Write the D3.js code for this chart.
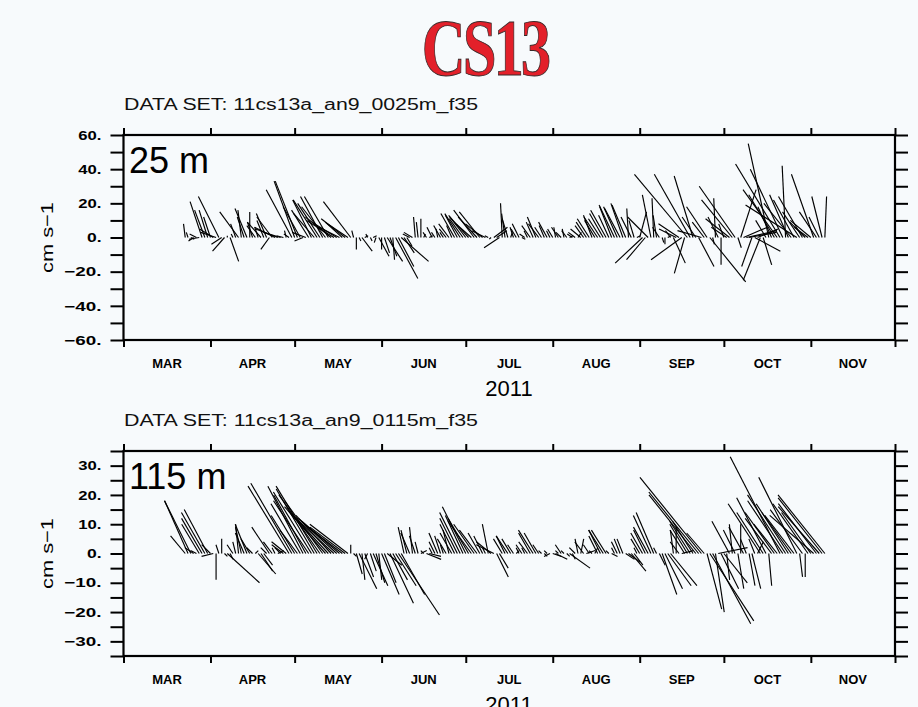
<!DOCTYPE html>
<html><head><meta charset="utf-8">
<script src="https://cdn.jsdelivr.net/npm/d3@7"></script>
<style>html,body{margin:0;padding:0;background:#f7fafc;} svg{display:block}</style>
</head><body>
<svg id="c" width="918" height="707"></svg>
<script>
// ---------------- data ----------------
const title = "CS13";
const monthLabels = ["MAR","APR","MAY","JUN","JUL","AUG","SEP","OCT","NOV"];
const yearLabel = "2011";
const yUnits = "cm s\u22121";
const axisStart = "2011-03-01", axisEnd = "2011-12-01";
const dataStart = "2011-03-23";   // first daily stick
const depthLabels = ["25 m", "115 m"];
const dataSetLabels = ["DATA SET: 11cs13a_an9_0025m_f35", "DATA SET: 11cs13a_an9_0115m_f35"];
const yLabelTicks25 = [-60,-40,-20,0,20,40,60];
const yMinorTicks25 = [-60,-50,-40,-30,-20,-10,0,10,20,30,40,50,60];
const yLabelTicks115 = [-30,-20,-10,0,10,20,30];
const yMinorTicks115 = [-35,-30,-25,-20,-15,-10,-5,0,5,10,15,20,25,30,35];

// 25 m daily east (u) and north (v) velocity, cm/s
const u25 = [
 -1,-1,2,-3,-4,-6,-7,-6,-5,-4,
 -8,-9,-12,-6,-7,0,5,-1,-3,-11,
 -2,-4,-7,0,-3,-5,-2,-8,-4,-6,
 -5,-9,-12,-13,-10,-4,-1,-3,-15,-12,
 -13,-10,-5,-8,-10,-11,-12,-14,-13,-13,
 -14,-14,-15,-16,-13,-12,-10,-14,-12,-16,
 -1,0,1,6,2,-1,1,2,-1,6,
 0,3,9,4,1,13,9,16,6,3,
 -4,-5,-1,-1,0,1,-2,2,-3,-2,
 -1,-4,-2,-4,-6,-3,-8,-7,-9,-8,
 -10,-11,-9,-12,-11,-12,-10,-8,-2,-1,
 8,6,-9,-1,-2,-3,1,-2,-3,-4,
 2,-3,-2,-5,-4,-5,-6,-4,-3,-5,
 -2,-3,-1,-4,-3,-1,-3,2,-3,-4,
 2,-6,-5,-6,-7,-5,-6,-8,-7,-8,
 -9,-6,-7,-9,-8,-9,-7,-8,-1,-6,
 -3,2,4,-16,-11,-12,-5,-1,-2,-4,
 1,0,2,-3,7,-10,-12,-18,-6,-31,
 -21,-11,-8,9,-14,-7,-12,21,1,-1,
 -6,0,-3,-9,-14,-18,-21,2,9,14,
 18,16,-6,15,12,-10,5,-6,-12,-8,
 -15,-20,-26,-19,-2,-11,-16,-12,-30,-10,
 -14,-9,-8,-12,-13,-10,-6,-6,1];
const v25 = [
 8,3,-1,-2,2,-1,21,16,16,12,
 5,3,24,-4,-8,1,-14,2,8,15,
 16,12,17,15,9,7,6,9,10,14,
 -7,12,6,5,3,1,4,2,28,33,
 33,18,-2,3,16,22,14,22,20,24,
 18,24,12,10,8,6,9,11,8,21,
 4,-7,-2,-8,1,2,-2,1,-3,-11,
 -7,-9,-14,-11,-13,-24,-17,-14,-9,-5,
 2,3,12,9,11,2,3,1,6,3,
 5,7,3,5,8,7,14,13,14,11,
 13,12,8,16,12,15,8,4,1,-1,
 6,4,-6,20,14,10,3,6,5,8,
 -1,2,4,7,9,12,8,6,7,9,
 4,5,6,6,3,5,4,1,2,3,
 3,5,7,9,11,13,10,12,11,14,
 16,13,18,19,18,17,20,19,17,12,
 10,1,15,-15,-13,12,25,23,13,6,
 -3,-4,1,4,-15,5,8,-13,-21,37,
 37,36,12,-17,4,9,18,-26,-4,23,
 12,-16,8,6,11,22,30,-6,28,6,
 4,3,-17,-8,5,-25,-16,10,55,18,
 25,28,43,40,42,25,20,22,19,15,
 24,9,6,10,37,15,12,24,24];

// 115 m daily east (u) and north (v) velocity, cm/s
const u115 = [
 -5,-8,-9,-3,-2,-6,-7,-8,-8,-3,
 -4,0,-1,0,1,11,1,-2,-1,-1,
 -2,-3,-4,-3,-2,1,6,4,3,-2,
 -6,-3,-1,2,-2,-4,-5,-14,-14,-8,
 -6,-10,-12,-11,-12,-13,-13,-14,-14,-13,
 -14,-13,-12,-13,-12,-14,-13,-12,-13,0,
 1,2,6,1,3,-1,2,5,3,1,
 6,4,5,8,5,7,14,8,-2,-2,
 -3,-1,-2,-1,2,-1,5,4,-1,-2,
 -3,-2,-1,-3,-2,-4,-5,-6,-7,-6,
 -8,-7,-8,-7,-6,-4,-3,-1,-2,-5,
 -6,4,3,-3,-3,-4,-3,-2,1,-1,
 -2,-1,-3,-4,-5,-4,-2,-1,1,-1,
 -2,3,4,-1,-2,-1,1,7,1,-2,
 -1,1,-3,3,-2,-1,1,-3,-4,-5,
 -5,-1,2,-1,-2,-2,-2,3,4,5,
 3,-1,-3,-4,-4,-5,-6,-6,-1,2,
 5,6,8,9,-1,0,-3,4,-5,-6,
 -7,-7,-16,-17,-21,-6,5,15,13,3,
 10,6,8,1,-6,-1,-4,2,0,-5,
 -2,2,3,-2,2,-11,-9,-10,1,-9,
 -10,-8,-17,-12,-13,-11,-10,-10,-13,1,
 -11,0,-12,-10,-15,-13,-14,-15,-16];
const v115 = [
 6,18,18,2,1,10,12,14,15,3,
 -1,-9,3,5,-1,-10,-2,3,4,10,
 9,7,10,5,2,1,-7,-6,-4,2,
 9,4,2,1,2,3,4,23,24,13,
 8,17,23,20,18,21,22,23,20,18,
 16,14,13,12,11,12,10,9,10,3,
 -1,-7,-12,-9,-8,-2,-6,-11,-10,-9,
 -14,-10,-4,-17,-9,-11,-21,-14,9,8,
 7,9,6,4,1,1,-2,-1,2,4,
 7,6,3,5,8,7,10,12,14,13,
 16,12,11,10,8,7,6,2,10,4,
 3,-8,-5,5,6,6,5,3,1,2,
 3,2,4,7,8,7,3,1,-1,1,
 -1,-1,-2,1,3,1,-1,-5,-2,2,
 5,5,4,1,3,1,2,6,8,8,
 8,1,-1,2,4,5,5,-2,-3,-6,
 -4,2,5,7,8,9,13,14,2,-4,
 -14,-12,-11,-11,8,9,4,1,8,10,
 11,11,20,21,26,7,-19,-23,-24,-20,
 2,-12,-10,-9,11,10,8,-12,10,9,
 5,-11,-12,5,4,17,14,19,-11,12,
 14,10,33,18,20,17,14,13,26,-8,
 15,-8,17,14,13,17,16,19,20];

// ---------------- drawing ----------------
const svg = d3.select("#c");
svg.append("rect").attr("width",918).attr("height",707).attr("fill","#f7fafc");

const parse = d3.utcParse("%Y-%m-%d");
const t0 = parse(axisStart), t1 = parse(axisEnd), ds = parse(dataStart);
const left = 123.5, right = 895;
const x = d3.scaleUtc().domain([t0, t1]).range([left, right]);
const monthStarts = d3.utcMonth.range(t0, d3.utcDay.offset(t1, 1));

// title
svg.append("text")
  .attr("transform","translate(485,75) scale(0.76,1)")
  .attr("text-anchor","middle")
  .attr("font-family","Liberation Serif, serif")
  .attr("font-weight","bold")
  .attr("font-size",80)
  .attr("letter-spacing",-4)
  .attr("fill","#e3202a")
  .attr("stroke","#3a2a2a").attr("stroke-width",0.9)
  .text(title);

const fmt = d => d === 0 ? "0." : (d < 0 ? "\u2212" + (-d) + "." : d + ".");
const labelLen = s => s.replace(/[^0-9]/g,"").length * 8.6 + 6 + (s.startsWith("\u2212") ? 14 : 0);

const panels = [
  {top:135, bottom:340, dom:[-60,60], labels:yLabelTicks25, minor:yMinorTicks25, u:u25, v:v25, depth:depthLabels[0], ds:dataSetLabels[0]},
  {top:451, bottom:656, dom:[-35,35], labels:yLabelTicks115, minor:yMinorTicks115, u:u115, v:v115, depth:depthLabels[1], ds:dataSetLabels[1]}
];

panels.forEach(p => {
  const y = d3.scaleLinear().domain(p.dom).range([p.bottom, p.top]);
  const g = svg.append("g");
  const k = y(0) - y(1); // px per cm/s (same on both axes)

  // data set label
  g.append("text").attr("x",124).attr("y",p.top-25)
    .attr("font-family","Liberation Sans, sans-serif").attr("font-size",16)
    .attr("textLength",354).attr("lengthAdjust","spacingAndGlyphs")
    .attr("fill","#111").text(p.ds);

  // sticks
  const sticks = p.u.map((u,i) => ({t:d3.utcDay.offset(ds, i), u:u, v:p.v[i]}));
  g.append("g").selectAll("line").data(sticks).join("line")
    .attr("x1", d => x(d.t)).attr("y1", y(0))
    .attr("x2", d => x(d.t) + d.u * k).attr("y2", d => y(d.v))
    .attr("stroke","#000").attr("stroke-width",1.15);

  // axes
  const axL = d3.axisLeft(y).tickValues(p.minor).tickSize(13).tickPadding(9)
    .tickFormat(d => p.labels.includes(d) ? fmt(d) : "");
  const axR = d3.axisRight(y).tickValues(p.minor).tickSize(13).tickFormat("");
  const axT = d3.axisTop(x).tickValues(monthStarts).tickSize(7).tickFormat("");
  const axB = d3.axisBottom(x).tickValues(monthStarts).tickSize(7).tickFormat("");
  const style = sel => {
    sel.select(".domain").remove();
    sel.selectAll(".tick line").attr("stroke","#000").attr("stroke-width",2);
    sel.selectAll(".tick text").attr("font-family","Liberation Sans, sans-serif")
      .attr("font-weight","bold").attr("font-size",13).attr("fill","#000");
  };
  const gl = g.append("g").attr("transform",`translate(${left},0)`).call(axL).call(style);
  gl.selectAll(".tick text").filter(function(){ return this.textContent !== ""; })
    .attr("textLength", function(){ return labelLen(this.textContent); })
    .attr("lengthAdjust","spacingAndGlyphs");
  g.append("g").attr("transform",`translate(${right},0)`).call(axR).call(style);
  g.append("g").attr("transform",`translate(0,${p.top})`).call(axT).call(style);
  g.append("g").attr("transform",`translate(0,${p.bottom})`).call(axB).call(style);

  // frame
  g.append("rect").attr("x",left).attr("y",p.top).attr("width",right-left).attr("height",p.bottom-p.top)
    .attr("fill","none").attr("stroke","#000").attr("stroke-width",2.2);

  // month labels centred in each month
  g.append("g").selectAll("text").data(monthLabels).join("text")
    .attr("x",(d,i) => (x(monthStarts[i]) + x(monthStarts[i+1]))/2)
    .attr("y",p.bottom+28).attr("text-anchor","middle")
    .attr("font-family","Liberation Sans, sans-serif").attr("font-weight","bold")
    .attr("font-size",13).attr("fill","#000").text(d => d);

  // year
  g.append("text").attr("x",509).attr("y",p.bottom+56).attr("text-anchor","middle")
    .attr("font-family","Liberation Sans, sans-serif").attr("font-size",22).attr("fill","#000").text(yearLabel);

  // y units
  const cy = (p.top + p.bottom)/2;
  g.append("text").attr("transform",`translate(53,${cy}) rotate(-90)`).attr("text-anchor","middle")
    .attr("font-family","Liberation Sans, sans-serif").attr("font-size",17)
    .attr("textLength",71).attr("lengthAdjust","spacingAndGlyphs")
    .attr("fill","#000").text(yUnits);

  // depth label
  g.append("text").attr("x",129).attr("y",p.top+38)
    .attr("font-family","Liberation Sans, sans-serif").attr("font-size",36).attr("fill","#000").text(p.depth);
});
</script>
</body></html>
